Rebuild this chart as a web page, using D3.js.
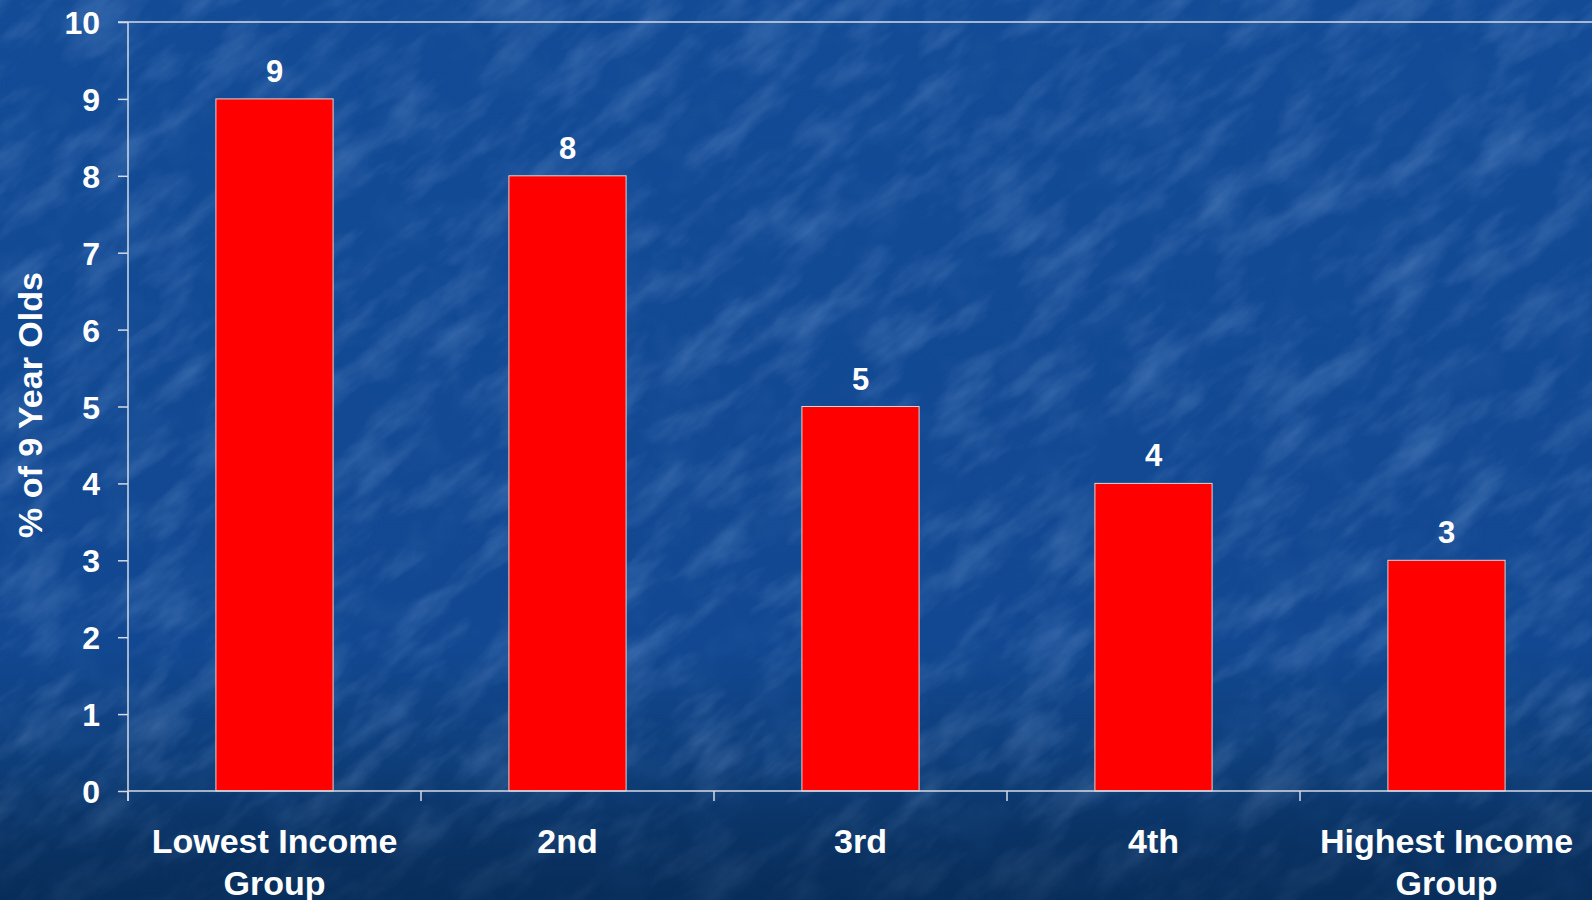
<!DOCTYPE html>
<html>
<head>
<meta charset="utf-8">
<script src="https://cdn.jsdelivr.net/npm/d3@7"></script>
<style>
  html, body { margin: 0; padding: 0; background: #0d3a78; overflow: hidden; }
  svg { display: block; }
  text { font-family: "Liberation Sans", Arial, sans-serif; font-weight: bold; fill: #ffffff; }
</style>
</head>
<body>
<svg id="chart" width="1592" height="900"></svg>
<script>
const categories = [["Lowest Income", "Group"], ["2nd"], ["3rd"], ["4th"], ["Highest Income", "Group"]];
const values = [9, 8, 5, 4, 3];
const yTicks = [0, 1, 2, 3, 4, 5, 6, 7, 8, 9, 10];
const yTitle = "% of 9 Year Olds";

const W = 1592, H = 900;
const mLeft = 128, mRight = 1593, mTop = 22, mBottom = 791;

const svg = d3.select("#chart");
const defs = svg.append("defs");

// background gradient
const bg = defs.append("linearGradient").attr("id", "bg").attr("x1", 0).attr("y1", 0).attr("x2", 0).attr("y2", 1);
bg.append("stop").attr("offset", "0%").attr("stop-color", "#134b96");
bg.append("stop").attr("offset", "72%").attr("stop-color", "#124891");
bg.append("stop").attr("offset", "88%").attr("stop-color", "#0d3b74");
bg.append("stop").attr("offset", "100%").attr("stop-color", "#0a3262");

const f = defs.append("filter").attr("id", "tex").attr("x", 0).attr("y", 0).attr("width", "100%").attr("height", "100%");
f.append("feTurbulence").attr("type", "fractalNoise").attr("baseFrequency", "0.012 0.035").attr("numOctaves", 4).attr("seed", 3).attr("result", "n");
f.append("feColorMatrix").attr("in", "n").attr("type", "matrix")
  .attr("values", "0 0 0 0 0.45  0 0 0 0 0.65  0 0 0 0 1  1.4 0 0 0 -0.62");

const f2 = defs.append("filter").attr("id", "tex2").attr("x", 0).attr("y", 0).attr("width", "100%").attr("height", "100%");
f2.append("feTurbulence").attr("type", "fractalNoise").attr("baseFrequency", "0.02").attr("numOctaves", 3).attr("seed", 11).attr("result", "n");
f2.append("feColorMatrix").attr("in", "n").attr("type", "matrix")
  .attr("values", "0 0 0 0 0.05  0 0 0 0 0.18  0 0 0 0 0.45  -1.2 0 0 0 0.62");

svg.append("rect").attr("width", W).attr("height", H).attr("fill", "url(#bg)");
svg.append("rect").attr("width", W).attr("height", H).attr("filter", "url(#tex2)").attr("opacity", 0.35);
svg.append("g").attr("transform", "translate(796,450) rotate(-40) translate(-1300,-1300)")
  .append("rect").attr("width", 2600).attr("height", 2600).attr("filter", "url(#tex)").attr("opacity", 0.32);

// darker band at bottom
const shade = defs.append("linearGradient").attr("id", "shade").attr("x1", 0).attr("y1", 0).attr("x2", 0).attr("y2", 1);
shade.append("stop").attr("offset", "0%").attr("stop-color", "#062a55").attr("stop-opacity", 0);
shade.append("stop").attr("offset", "100%").attr("stop-color", "#062a55").attr("stop-opacity", 0.65);
svg.append("rect").attr("x", 0).attr("y", 765).attr("width", W).attr("height", 135).attr("fill", "url(#shade)");

const x = d3.scaleBand().domain(d3.range(values.length)).range([mLeft, mRight]).paddingInner(0.6).paddingOuter(0.3);
const band = d3.scaleBand().domain(d3.range(values.length)).range([mLeft, mRight]);
const y = d3.scaleLinear().domain([0, 10]).range([mBottom, mTop]);

const axisColor = "#d4dbe6";

// top line at max
svg.append("line").attr("x1", mLeft - 10).attr("x2", W).attr("y1", y(10)).attr("y2", y(10))
  .attr("stroke", axisColor).attr("stroke-width", 1.5);

// y axis
const yAxis = svg.append("g").attr("transform", `translate(${mLeft},0)`)
  .call(d3.axisLeft(y).tickValues(yTicks).tickSize(10).tickPadding(18).tickFormat(d3.format("d")));
yAxis.select(".domain").remove();
yAxis.selectAll(".tick line").attr("stroke", axisColor).attr("stroke-width", 1.5);
yAxis.selectAll(".tick text").attr("font-size", 32).attr("fill", "#fff").attr("dy", "0.36em")
  .style("font-family", "'Liberation Sans', Arial, sans-serif").style("font-weight", "bold");
svg.append("line").attr("x1", mLeft).attr("x2", mLeft).attr("y1", y(10)).attr("y2", mBottom + 10)
  .attr("stroke", axisColor).attr("stroke-width", 1.5);

// bars
svg.append("g").selectAll("rect").data(values).join("rect")
  .attr("x", (d, i) => x(i)).attr("width", x.bandwidth())
  .attr("y", d => y(d)).attr("height", d => y(0) - y(d))
  .attr("fill", "#ff0000").attr("stroke", "#d8d8d8").attr("stroke-width", 1);

// x axis line and boundary ticks
svg.append("line").attr("x1", mLeft).attr("x2", W).attr("y1", mBottom).attr("y2", mBottom)
  .attr("stroke", axisColor).attr("stroke-width", 1.5);
const bounds = d3.range(values.length).map(i => band(i));
svg.append("g").selectAll("line").data(bounds).join("line")
  .attr("x1", d => d).attr("x2", d => d).attr("y1", mBottom).attr("y2", mBottom + 10)
  .attr("stroke", axisColor).attr("stroke-width", 1.5);

// value labels
svg.append("g").selectAll("text").data(values).join("text")
  .attr("x", (d, i) => x(i) + x.bandwidth() / 2).attr("y", d => y(d) - 17)
  .attr("text-anchor", "middle").attr("font-size", 31).text(d => d);

// category labels
const cl = svg.append("g").selectAll("text").data(categories).join("text")
  .attr("x", (d, i) => band(i) + band.bandwidth() / 2).attr("y", 853)
  .attr("text-anchor", "middle").attr("font-size", 34);
cl.selectAll("tspan").data(d => d).join("tspan")
  .attr("x", function () { return d3.select(this.parentNode).attr("x"); })
  .attr("dy", (d, i) => i === 0 ? 0 : 42).text(d => d);

// y title
svg.append("text").attr("transform", `translate(42,405) rotate(-90)`)
  .attr("text-anchor", "middle").attr("font-size", 34).text(yTitle);
</script>
</body>
</html>
